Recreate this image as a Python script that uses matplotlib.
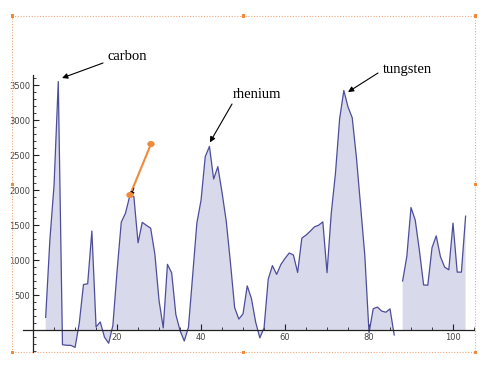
import numpy as np
import matplotlib
matplotlib.use("Agg")
import matplotlib.pyplot as plt
from matplotlib.patches import Rectangle
from matplotlib.ticker import MultipleLocator

W, H = 491, 371

# melting points (deg C) by atomic number, Li (3) .. Lr (103); Fr has no value
atomic_number = np.arange(3, 104)
melting_point = [
    180.5, 1287, 2075, 3550, -210.1, -218, -219.6, -248.6, 97.7, 650,
    660.3, 1414, 44.2, 115.2, -101.5, -189.3, 63.4, 842, 1541, 1668,
    1910, 1907, 1246, 1538, 1495, 1455, 1084.6, 419.5, 29.8, 938.3,
    817, 221, -7.3, -157.4, 39.3, 777, 1526, 1855, 2477, 2623,
    2157, 2334, 1964, 1554.9, 961.8, 321.1, 156.6, 231.9, 630.6, 449.5,
    113.7, -111.8, 28.4, 727, 920, 795, 935, 1024, 1100, 1072,
    822, 1313, 1356, 1412, 1474, 1497, 1545, 819, 1663, 2233,
    3017, 3422, 3186, 3033, 2466, 1768.3, 1064.2, -38.8, 304, 327.5,
    271.3, 254, 302, -71, np.nan, 700, 1050, 1750, 1572, 1135,
    644, 640, 1176, 1345, 1050, 900, 860, 1527, 827, 827,
    1627,
]
y = np.array(melting_point, dtype=float)

# labels: (name, arrow tip in data coords, text position in figure pixels from top-left)
labels = ["carbon", "rhenium", "tungsten"]
label_tips = [(6.9, 3600), (42.1, 2680), (75.0, 3400)]
label_text_px = [(107, 57), (233, 95), (383, 69)]
label_tail_px = [(103, 63), (232, 104), (378, 73)]

fig = plt.figure(figsize=(W / 100, H / 100), dpi=100)
ax_left, ax_right, ax_top, ax_bot = 23, 474, 75, 352
ax = fig.add_axes([ax_left / W, (H - ax_bot) / H, (ax_right - ax_left) / W, (ax_bot - ax_top) / H])
ax.set_xlim(-2.4, 105)
ax.set_ylim(-314, 3643)
ax.patch.set_alpha(0)

line_color = "#4d4d9c"
fill_color = "#d9d9ec"
ax.fill_between(atomic_number, y, 0, color=fill_color, lw=0)
ax.plot(atomic_number, y, color=line_color, lw=0.9)

for s in ["top", "right"]:
    ax.spines[s].set_visible(False)
ax.spines["left"].set_position(("data", 0))
ax.spines["bottom"].set_position(("data", 0))
for s in ["left", "bottom"]:
    ax.spines[s].set_linewidth(0.9)
    ax.spines[s].set_color("#222222")

ax.set_xticks([20, 40, 60, 80, 100])
ax.set_yticks([500, 1000, 1500, 2000, 2500, 3000, 3500])
ax.xaxis.set_minor_locator(MultipleLocator(5))
ax.yaxis.set_minor_locator(MultipleLocator(100))
ax.tick_params(which="major", direction="in", length=4, width=0.8, color="#222222",
               labelsize=6, labelcolor="#444444", pad=2)
ax.tick_params(which="minor", direction="in", length=2.2, width=0.6, color="#222222")

serif = ["Liberation Serif", "DejaVu Serif"]
for name, tip, tpx, tail in zip(labels, label_tips, label_text_px, label_tail_px):
    fig.text(tpx[0] / W, 1 - tpx[1] / H, name, family=serif, fontsize=10.5,
             ha="left", va="center", color="black")
    ax.annotate("", xy=tip, xycoords="data",
                xytext=(tail[0], H - tail[1]), textcoords="figure pixels",
                arrowprops=dict(arrowstyle="-|>", color="black", lw=0.8,
                                mutation_scale=8, shrinkA=0, shrinkB=0))

# orange arrow drawn by hand
orange = "#f08a3c"
p0 = (151, H - 144)
p1 = (130, H - 195)
ax.annotate("", xy=p1, xycoords="figure pixels", xytext=p0, textcoords="figure pixels",
            arrowprops=dict(arrowstyle="-", color=orange, lw=1.5, shrinkA=0, shrinkB=0))
ax.annotate("", xy=(p1[0] + 1, p1[1] - 1), xycoords="figure pixels",
            xytext=(p1[0] + 4, p1[1] + 7), textcoords="figure pixels",
            arrowprops=dict(arrowstyle="-|>", color="black", lw=0.6,
                            mutation_scale=6, shrinkA=0, shrinkB=0))
for p in (p0, p1):
    fig.add_artist(plt.Circle((p[0] / W, p[1] / H), 3 / W, transform=fig.transFigure,
                              color=orange, zorder=5))

# dotted selection frame with handles
bx0, by0, bx1, by1 = 12, 16, 475, 352
sel = "#f0a878"
fig.add_artist(Rectangle((bx0 / W, 1 - by1 / H), (bx1 - bx0) / W, (by1 - by0) / H,
                         transform=fig.transFigure, fill=False, ec=sel, lw=0.8, ls=(0, (1, 1.5))))
for hx in (bx0, (bx0 + bx1) / 2, bx1):
    for hy in (by0, (by0 + by1) / 2, by1):
        if hx == (bx0 + bx1) / 2 and hy == (by0 + by1) / 2:
            continue
        fig.add_artist(Rectangle(((hx - 1.5) / W, 1 - (hy + 1.5) / H), 3 / W, 3 / H,
                                 transform=fig.transFigure, color="#f08a3c", lw=0))

fig.savefig("out.png", dpi=100)
